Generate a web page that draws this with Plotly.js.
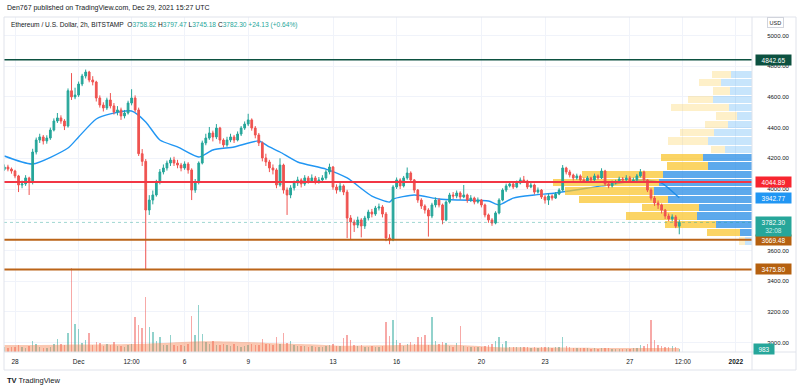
<!DOCTYPE html>
<html><head><meta charset="utf-8">
<script src="https://cdn.plot.ly/plotly-3.0.1.min.js"></script>
<style>html,body{margin:0;padding:0;background:#fff}#chart{width:800px;height:390px}</style>
</head><body><div id="chart"></div>
<script>
// ---- DATA ----
const barStartUTC = Date.UTC(2021, 10, 27, 12); // first bar open time
const barHours = 4;
const firstOpen = 4128;
const closes = [4143,4130,4117,4085,4026,4033,4072,4046,4241,4319,
4339,4313,4332,4384,4443,4463,4443,4410,4640,4600,
4612,4684,4736,4762,4710,4697,4593,4547,4528,4580,
4541,4502,4515,4476,4495,4560,4593,4515,4230,4180,
3863,3928,3961,4046,4111,4137,4169,4189,4169,4156,
4137,4163,4124,3993,4046,4169,4300,4332,4365,4339,
4397,4319,4287,4319,4339,4319,4358,4397,4423,4450,
4397,4352,4300,4202,4176,4137,4124,4026,4156,3993,
3961,4007,4039,4059,4033,4072,4052,4072,4046,4059,
4072,4111,4143,4013,3993,4020,3980,3811,3785,3765,
3798,3759,3811,3850,3837,3876,3883,3837,3681,3668,
4013,4059,4020,4072,4104,4059,3993,3928,3889,3863,
3824,3896,3928,3896,3798,3915,3961,3954,3974,3948,
3961,3928,3941,3915,3928,3896,3831,3798,3778,3844,
3928,3993,4020,4033,4013,4039,4059,4052,4013,4026,
3980,3993,3948,3928,3954,3941,3967,3993,4137,4111,
4091,4072,4085,4059,4052,4072,4059,4085,4072,4117,
4033,4020,4039,4046,4065,4059,4072,4052,4059,4085,
4111,4059,3993,3941,3909,3896,3863,3824,3805,3818,
3758,3782.30];
const highs = [4160,4158,4140,4125,4092,4055,4090,4080,4262,4335,
4360,4352,4350,4400,4460,4495,4480,4455,4655,4755,
4660,4700,4750,4778,4770,4735,4705,4610,4565,4595,
4625,4560,4540,4530,4515,4575,4650,4610,4530,4260,
4195,3960,3990,4060,4130,4160,4185,4205,4210,4190,
4170,4180,4175,4135,4065,4180,4315,4360,4404,4380,
4423,4405,4330,4340,4360,4352,4375,4410,4440,4490,
4460,4410,4365,4310,4230,4190,4160,4135,4200,4165,
4010,4025,4055,4080,4070,4090,4085,4095,4085,4078,
4090,4125,4165,4150,4030,4040,4030,3995,3830,3800,
3820,3810,3825,3865,3870,3890,3905,3895,3850,3705,
4025,4075,4070,4085,4140,4115,4065,4000,3940,3900,
3875,3910,3945,3940,3905,3925,3975,3980,3990,3985,
4026,3970,3960,3950,3945,3935,3905,3840,3810,3855,
3940,4005,4035,4050,4045,4055,4075,4085,4060,4045,
4035,4010,4000,3960,3970,3965,3980,4005,4156,4145,
4125,4100,4100,4095,4075,4085,4080,4100,4095,4135,
4125,4045,4055,4060,4080,4078,4090,4085,4075,4098,
4130,4120,4065,4005,3955,3925,3905,3870,3840,3835,
3830,3800];
const lows = [4118,4115,4100,4070,3980,4005,4020,3961,4030,4225,
4300,4290,4295,4320,4375,4430,4425,4384,4400,4580,
4585,4600,4670,4720,4695,4675,4570,4530,4505,4515,
4525,4485,4480,4450,4460,4485,4545,4500,4215,4150,
3476,3831,3900,3950,4030,4095,4120,4150,4150,4135,
4115,4125,4100,3928,3975,4030,4160,4285,4320,4310,
4325,4295,4270,4275,4305,4300,4310,4345,4385,4410,
4380,4330,4280,4180,4150,4110,4095,4005,4015,3970,
3831,3940,3990,4020,4010,4020,4035,4040,4030,4035,
4045,4060,4095,3995,3970,3980,3960,3680,3670,3720,
3745,3685,3740,3795,3815,3825,3860,3815,3660,3640,
3660,4000,4000,4010,4060,4040,3975,3910,3870,3840,
3690,3810,3880,3880,3770,3790,3905,3935,3940,3930,
3940,3910,3915,3900,3905,3880,3815,3780,3760,3770,
3835,3920,3980,4010,4000,4005,4030,4040,4000,4005,
3965,3970,3935,3905,3896,3925,3935,3960,3985,4095,
4075,4055,4060,4045,4040,4045,4045,4050,4060,4065,
4020,4005,4010,4030,4040,4045,4050,4040,4045,4050,
4075,4045,3980,3925,3890,3870,3840,3805,3790,3790,
3745,3705];
const volumes = [1600,1400,1500,1700,2300,1500,1400,1900,3600,2500,
1500,1400,1300,1700,2800,4300,2600,2400,6300,27700,
9200,7600,3000,4000,6300,2300,3200,3000,2000,2600,
2300,3300,2000,2000,1800,2400,2600,11500,9000,8000,
18000,8300,6600,3600,5000,2400,2200,5600,2200,2000,
2300,2000,2600,11900,5600,15500,6000,3300,2600,3600,
2400,2300,2800,2200,2000,2600,2000,1800,2000,2400,
2600,2200,2300,4300,2500,2600,2300,5000,2800,6300,
3000,3600,2400,2000,1900,2000,1800,2000,1700,1800,
1700,2000,2300,2600,2000,1900,4600,5600,4000,2200,
2000,2300,1800,1700,1900,1700,1800,2000,9900,5300,
10600,4000,3000,2000,2600,3300,2500,5000,5000,5600,
2300,11500,3600,2600,3300,3000,2000,1800,3000,8600,
2000,1700,1600,1800,1500,1700,2000,2300,2600,3600,
5000,2600,3600,1800,1600,1500,1700,1500,1600,1400,
1500,1400,1600,1500,1600,1400,1500,1800,5000,2000,
1500,1400,1300,1200,1300,1200,1100,1200,1100,1300,
1400,1200,1100,1000,1100,1000,1100,1000,1200,1300,
2300,2000,2600,10600,4000,2300,2000,1800,1500,2000,
1500,983];
const emaIdx = [0,8,18,21,26,30,36,40,44,49,55,59,65,72,75,78,83,91,97,104,109,110,116,123,129,137,140,144,150,156,169,181,186,191];
const emaVal = [4215,4163,4267,4339,4456,4489,4508,4437,4319,4274,4208,4254,4274,4313,4274,4241,4176,4130,4072,3954,3915,3935,3961,3935,3928,3922,3896,3941,3961,3974,4020,4059,4039,3942.77];
const volMaIdx = [0,17,35,45,52,62,69,78,84,95,106,118,129,140,155,169,191];
const volMaVal = [2300,2400,2600,3000,3400,3500,3300,2800,2600,2100,2200,2400,2300,1600,1450,1300,1300];
const vpPrice = [4748,4694,4639,4585,4531,4476,4422,4368,4313,4259,4205,4150,4096,4042,3987,3933,3879,3824,3770,3716,3661];
const vpUp    = [21,31,22,39,23,15,24,38,44,27,49,44,89,93,98,84,53,55,36,12,7];
const vpDown  = [19,22,17,25,58,21,23,34,40,14,42,41,81,106,89,89,57,71,51,33,6];
const vpValueArea = [0,0,0,0,0,0,0,0,0,0,1,1,1,1,1,1,1,1,1,1,0];
const levelPrices = [4842.65, 4044.89, 3669.48, 3475.80];
const lastPrice = 3782.30;
const emaLast = 3942.77;
const lastVolume = 983;
const priceTicks = [3000,3200,3400,3600,3800,4000,4200,4400,4600,4800,5000];
const timeTickVals = ['2021-11-28','2021-12-01','2021-12-03 12:00','2021-12-06','2021-12-09','2021-12-13','2021-12-16','2021-12-20','2021-12-23','2021-12-27','2021-12-29 12:00','2022-01-01'];
const timeTickText = ['28','Dec','12:00','6','9','13','16','20','23','27','12:00','<b>2022</b>'];

// ---- BUILD ----
const HOUR = 3600e3;
const tStr = i => new Date(barStartUTC + i*barHours*HOUR).toISOString().slice(0,16).replace('T',' ');
const times = closes.map((_,i)=>tStr(i));
const opens = closes.map((c,i)=> i===0 ? firstOpen : closes[i-1]);
const UP='#26a69a', DN='#ef5350';
const volColors = closes.map((c,i)=> c>=opens[i] ? 'rgba(38,166,154,0.5)' : 'rgba(239,83,80,0.5)');

const px2x = px => (px-4)/748;
const px2y = py => (352-py)/335;
const FONT = 'Liberation Sans, Arial, sans-serif';
const xRange = ['2021-11-27 11:33','2022-01-01 18:20'];
const yRange = [2938.1, 5120.5];

const traces = [
  {type:'scatter', mode:'lines', x:emaIdx.map(tStr), y:emaVal, xaxis:'x', yaxis:'y',
   line:{color:'#2196f3', width:1.4, shape:'spline', smoothing:0.6}, hoverinfo:'skip'},
  {type:'scatter', mode:'lines', x:volMaIdx.map(tStr), y:volMaVal, xaxis:'x', yaxis:'y2',
   fill:'tozeroy', fillcolor:'rgba(245,124,69,0.42)', line:{width:0, shape:'spline'}, hoverinfo:'skip'},
  {type:'bar', x:times, y:volumes, xaxis:'x', yaxis:'y2', width:barHours*HOUR*0.4,
   marker:{color:volColors, line:{width:0}}, hoverinfo:'skip'},
  {type:'bar', orientation:'h', y:vpPrice, x:vpUp, xaxis:'x3', yaxis:'y', width:47,
   marker:{color:vpValueArea.map(v=> v ? 'rgba(30,136,229,0.72)' : 'rgba(33,150,243,0.25)'), line:{width:0}}, hoverinfo:'skip'},
  {type:'bar', orientation:'h', y:vpPrice, x:vpDown, xaxis:'x3', yaxis:'y', width:47,
   marker:{color:vpValueArea.map(v=> v ? 'rgba(250,196,40,0.72)' : 'rgba(250,196,40,0.25)'), line:{width:0}}, hoverinfo:'skip'},
  {type:'candlestick', x:times, open:opens, high:highs, low:lows, close:closes, xaxis:'x4', yaxis:'y',
   increasing:{line:{color:UP, width:1}, fillcolor:UP},
   decreasing:{line:{color:DN, width:1}, fillcolor:DN}, hoverinfo:'skip'}
];

const lineStyles = [
  {color:'#0c5140', width:1.5},
  {color:'#f23645', width:2},
  {color:'#bb6418', width:2},
  {color:'#bb6418', width:2}
];
const labelBg = ['#0c5140','#f7252f','#b5600f','#b5600f'];

const shapes = [];
levelPrices.forEach((p,k)=> shapes.push({type:'line', xref:'paper', x0:0, x1:1, yref:'y', y0:p, y1:p, line:lineStyles[k], layer:'above'}));
shapes.push({type:'line', xref:'paper', x0:0, x1:1, yref:'y', y0:lastPrice, y1:lastPrice, line:{color:'rgba(38,166,154,0.55)', width:0.8, dash:'dot'}, layer:'above'});
// frame + dividers
shapes.push({type:'rect', xref:'paper', yref:'paper', x0:0, x1:px2x(796), y0:px2y(370), y1:px2y(17), line:{color:'#e0e3eb', width:1}, layer:'above'});
shapes.push({type:'line', xref:'paper', yref:'paper', x0:1, x1:1, y0:px2y(370), y1:px2y(17), line:{color:'#e0e3eb', width:1}, layer:'above'});
shapes.push({type:'line', xref:'paper', yref:'paper', x0:0, x1:px2x(796), y0:0, y1:0, line:{color:'#e0e3eb', width:1}, layer:'above'});

const ann = [];
const lab = (text, yref, y, bg, extra) => Object.assign({xref:'paper', x:px2x(755), xanchor:'left', yref:yref, y:y, yanchor:'middle',
  text:text, showarrow:false, bgcolor:bg, font:{family:FONT, size:6.5, color:'#ffffff'}, width:33, height:8, borderpad:1, align:'center'}, extra||{});
levelPrices.forEach((p,k)=> ann.push(lab(p.toFixed(2), 'y', p, labelBg[k])));
ann.push(lab(emaLast.toFixed(2), 'y', emaLast, '#2196f3'));
ann.push(lab(lastPrice.toFixed(2)+'<br><span style="color:#c9efe9">32:08</span>', 'y', lastPrice, '#26a69a', {yanchor:'top', yshift:6, height:17}));
ann.push(lab(String(lastVolume), 'y2', lastVolume, '#26a69a', {width:18, x:px2x(753)}));
ann.push({xref:'paper', yref:'paper', x:px2x(775), y:px2y(23), xanchor:'center', yanchor:'middle', text:'USD', showarrow:false,
  font:{family:FONT, size:5.5, color:'#131722'}, bordercolor:'#d1d4dc', borderwidth:1, borderpad:1.5, bgcolor:'#ffffff'});
ann.push({xref:'paper', yref:'paper', x:px2x(5), y:px2y(8), xanchor:'left', yanchor:'middle', showarrow:false,
  text:'Den767 published on TradingView.com, Dec 29, 2021 15:27 UTC', font:{family:FONT, size:7, color:'#131722'}});
const tc = s => '<span style="color:#26a69a">'+s+'</span>';
ann.push({xref:'paper', yref:'paper', x:px2x(9), y:px2y(25), xanchor:'left', yanchor:'middle', showarrow:false,
  text:'Ethereum / U.S. Dollar, 2h, BITSTAMP  O'+tc('3758.82')+' H'+tc('3797.47')+' L'+tc('3745.18')+' C'+tc('3782.30')+' '+tc('+24.13 (+0.64%)'),
  font:{family:FONT, size:6.6, color:'#131722'}});
ann.push({xref:'paper', yref:'paper', x:px2x(5), y:px2y(380), xanchor:'left', yanchor:'middle', showarrow:false,
  text:'<b>TV</b> TradingView', font:{family:FONT, size:7.5, color:'#131722'}});

const layout = {
  width:800, height:390, margin:{l:4, r:48, t:17, b:38},
  paper_bgcolor:'#ffffff', plot_bgcolor:'#ffffff', showlegend:false, barmode:'stack',
  font:{family:FONT, color:'#131722'},
  xaxis:{type:'date', range:xRange, tickmode:'array', tickvals:timeTickVals, ticktext:timeTickText,
    showgrid:true, gridcolor:'#f0f3fa', gridwidth:1, zeroline:false, showline:false,
    ticks:'outside', ticklen:3, tickcolor:'rgba(0,0,0,0)', tickfont:{size:6.5, color:'#131722'},
    rangeslider:{visible:false}, fixedrange:true},
  xaxis3:{overlaying:'x', anchor:'y', range:[748,0], visible:false, fixedrange:true},
  xaxis4:{overlaying:'x', anchor:'y', type:'date', range:xRange, visible:false, rangeslider:{visible:false}, fixedrange:true},
  yaxis:{side:'right', range:yRange, tickmode:'array', tickvals:priceTicks,
    ticktext:priceTicks.map(v=> v===3800 ? '' : v.toFixed(2)),
    showgrid:true, gridcolor:'#f0f3fa', gridwidth:1, zeroline:false, showline:false,
    ticks:'outside', ticklen:13, tickcolor:'rgba(0,0,0,0)', tickfont:{size:6, color:'#131722'}, fixedrange:true},
  yaxis2:{overlaying:'y', range:[0,110550], visible:false, fixedrange:true},
  shapes:shapes, annotations:ann
};
Plotly.newPlot('chart', traces, layout, {displayModeBar:false, staticPlot:true});
</script></body></html>
